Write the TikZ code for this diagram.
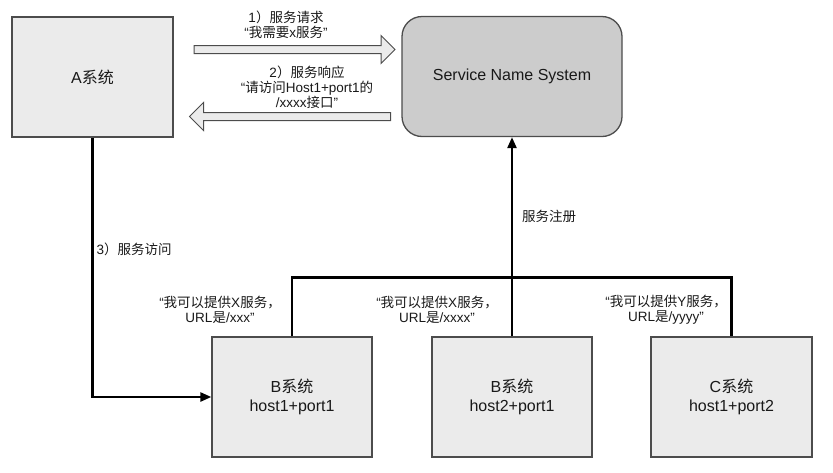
\documentclass[tikz,border=0pt]{standalone}
\usepackage{fontspec}
\setmainfont{Liberation Sans}
\newfontfamily\cjk{Noto Sans CJK SC}
\usetikzlibrary{arrows.meta, shapes.arrows, positioning}

\begin{document}
\begin{tikzpicture}[x=1pt, y=-1pt,
   sysbox/.style={draw=black!70, line width=1.3pt, fill=black!8, minimum width=160pt, minimum height=120pt, align=center, text=black!90, font=\fontsize{16}{19}\selectfont},
   snsbox/.style={sysbox, fill=black!20, rounded corners=20pt, minimum width=220pt},
   blockarrow/.style={single arrow, draw=black!70, fill=black!8, line width=1pt, inner xsep=0pt, inner ysep=3.5pt, single arrow head extend=10pt, single arrow tip angle=90, minimum height=201pt},
   lbl/.style={align=center, text=black!90, inner sep=1pt, font=\fontsize{13.5}{15}\selectfont},
   conn/.style={draw=black, line width=2.4pt},
   tip/.style={-{Triangle[length=11pt,width=9pt]}}]
     \useasboundingbox (0,0) rectangle (833,472);
     %row 1
     \node[sysbox, minimum width=161pt] (A) at (92.5,77) {A{\cjk 系统}};
     \node[snsbox] (sns) at (512,76.5) {Service Name System};
     \node[blockarrow] (req) at (292.5,49.5) {};
     \node[blockarrow, shape border rotate=180] (resp) at (292,116.5) {};
     \node[lbl] (reqlbl) at (286,24.5) {1{\cjk ）服务请求}\\“{\cjk 我需要}x{\cjk 服务}”};
     \node[lbl] (resplbl) at (307,87) {2{\cjk ）服务响应}\\“{\cjk 请访问}Host1+port1{\cjk 的}\\/xxxx{\cjk 接口}”};
     %row 2
     \node[sysbox] (B1) at (292,397) {B{\cjk 系统}\\host1+port1};
     \node[sysbox] (B2) at (512,397) {B{\cjk 系统}\\host2+port1};
     \node[sysbox, minimum width=161pt] (C) at (731.5,397) {C{\cjk 系统}\\host1+port2};
     \node[lbl] (B1lbl) at (220,309.5) {“{\cjk 我可以提供}X{\cjk 服务，}\\URL{\cjk 是}/xxx”};
     \node[lbl] (B2lbl) at (437,309.5) {“{\cjk 我可以提供}X{\cjk 服务，}\\URL{\cjk 是}/xxxx”};
     \node[lbl] (Clbl) at (666,309.5) {“{\cjk 我可以提供}Y{\cjk 服务，}\\URL{\cjk 是}/yyyy”};
     %connectors
     \draw[conn, tip] (A.south) |- (B1.west) node[lbl, pos=0.215, right, inner sep=3pt] {3{\cjk ）服务访问}};
     \draw[conn] (B1.north) -- ++(0,-59) -| (C.north);
     \draw[conn, tip] (B2.north) -- (sns.south) node[lbl, pos=0.6, right, inner sep=9pt] {\cjk 服务注册};
\end{tikzpicture}
\end{document}
